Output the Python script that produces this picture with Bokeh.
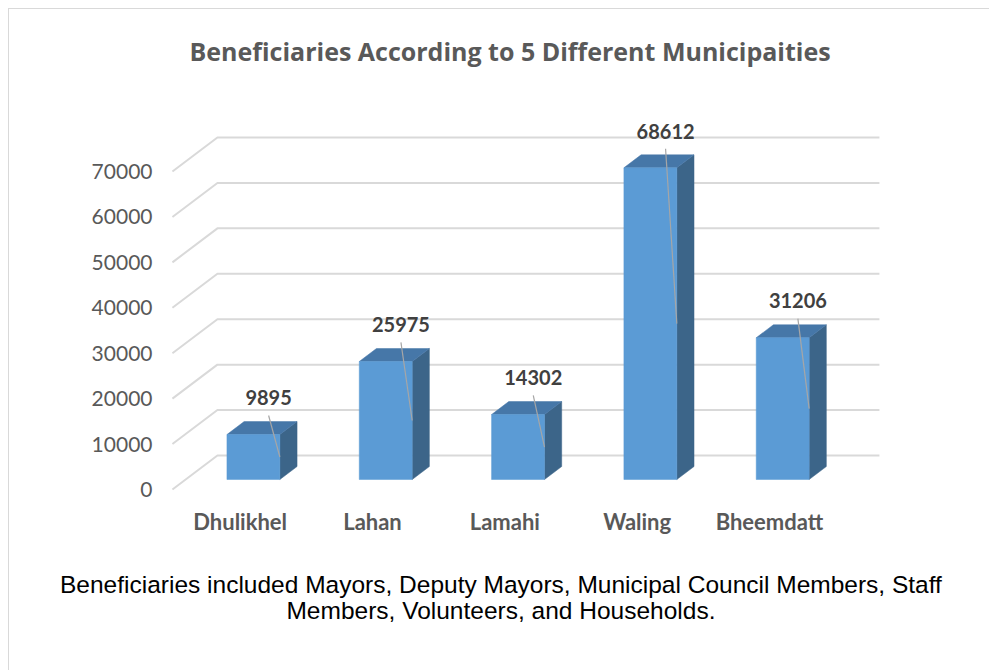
from bokeh.plotting import figure
from bokeh.layouts import column
from bokeh.models import Range1d, FixedTicker, NumeralTickFormatter, ColumnDataSource, Div
from bokeh.embed import file_html
from bokeh.resources import INLINE
from bokeh.core.properties import value

# ---------------- data ----------------
categories = ["Dhulikhel", "Lahan", "Lamahi", "Waling", "Bheemdatt"]
beneficiaries = [9895, 25975, 14302, 68612, 31206]
y_ticks = [0, 10000, 20000, 30000, 40000, 50000, 60000, 70000]
title_text = "Beneficiaries According to 5 Different Municipaities"
note_lines = [
    "Beneficiaries included Mayors, Deputy Mayors, Municipal Council Members, Staff",
    "Members, Volunteers, and Households.",
]

# ---------------- 3D projection style (data units) ----------------
DEPTH_X = 0.34      # horizontal shift of full depth (category units)
DEPTH_Y = 7484      # vertical shift of full depth (value units)
BAR_FRONT = 0.294   # fraction of depth where the bar front face sits
BAR_BACK = 0.676    # fraction of depth where the bar back face sits
BAR_W = 0.40        # bar width (category units)
GRID_X0 = -0.512    # front-left end of the gridlines
GRID_X1 = 4.831     # right end of the gridlines
LABEL_DY = 8100     # data label height above bar front top

FRONT = "#5b9bd5"
TOP = "#4677a8"
SIDE = "#3c6589"
GRID = "#d9d9d9"

p = figure(width=973, height=540, output_backend="svg", toolbar_location=None,
           x_range=Range1d(-0.519, 5.610), y_range=Range1d(-2641, 90912),
           min_border_left=162, min_border_right=0, min_border_top=67,
           min_border_bottom=48, title=title_text)
p.background_fill_color = "white"
p.border_fill_color = "white"
p.outline_line_color = None
p.xgrid.visible = False
p.ygrid.visible = False

p.title.align = "left"
p.title.offset = 18
p.title.standoff = 17
p.title.text_font = "Open Sans"
p.title.text_font_size = "25px"
p.title.text_font_style = "bold"
p.title.text_color = "#595959"

# y axis
p.yaxis.ticker = FixedTicker(ticks=y_ticks)
p.yaxis.formatter = NumeralTickFormatter(format="0")
p.yaxis.axis_line_color = None
p.yaxis.major_tick_line_color = None
p.yaxis.minor_tick_line_color = None
p.yaxis.major_label_standoff = 13
p.yaxis.major_label_text_font = "Lato"
p.yaxis.major_label_text_font_size = "21px"
p.yaxis.major_label_text_color = "#595959"

# x axis (categories on the front plane)
idx = list(range(len(categories)))
p.xaxis.ticker = FixedTicker(ticks=idx)
p.xaxis.major_label_overrides = {i: c for i, c in zip(idx, categories)}
p.xaxis.axis_line_color = None
p.xaxis.major_tick_line_color = None
p.xaxis.minor_tick_line_color = None
p.xaxis.major_label_standoff = 0
p.xaxis.major_label_text_font = "Lato"
p.xaxis.major_label_text_font_size = "22px"
p.xaxis.major_label_text_font_style = "bold"
p.xaxis.major_label_text_color = "#595959"

# gridlines: left wall + back wall
gx = [[GRID_X0, GRID_X0 + DEPTH_X, GRID_X1] for t in y_ticks]
gy = [[t, t + DEPTH_Y, t + DEPTH_Y] for t in y_ticks]
p.multi_line(gx, gy, line_color=GRID, line_width=2)

# bars
base = BAR_FRONT * DEPTH_Y
bdx = (BAR_BACK - BAR_FRONT) * DEPTH_X
bdy = (BAR_BACK - BAR_FRONT) * DEPTH_Y
shift = BAR_FRONT * DEPTH_X
left = [i + shift - BAR_W / 2 for i in idx]
right = [i + shift + BAR_W / 2 for i in idx]
top = [base + v for v in beneficiaries]

side_xs = [[r, r, r + bdx, r + bdx] for r in right]
side_ys = [[base, t, t + bdy, base + bdy] for t in top]
p.patches(side_xs, side_ys, fill_color=SIDE, line_color=SIDE, line_width=0.5)

top_xs = [[l, r, r + bdx, l + bdx] for l, r in zip(left, right)]
top_ys = [[t, t, t + bdy, t + bdy] for t in top]
p.patches(top_xs, top_ys, fill_color=TOP, line_color=TOP, line_width=0.5)

p.quad(left=left, right=right, bottom=[base] * len(idx), top=top,
       fill_color=FRONT, line_color=FRONT, line_width=0.5)

# data labels with leader lines
lab_x = [i + shift + 0.115 for i in idx]
lab_y = [t + LABEL_DY for t in top]
p.segment(x0=lab_x, y0=[y - 3900 for y in lab_y], x1=right,
          y1=[base + v / 2 for v in beneficiaries], line_color="#a6a6a6", line_width=1.2)
src = ColumnDataSource(dict(x=lab_x, y=lab_y, t=[str(v) for v in beneficiaries]))
p.text(x="x", y="y", text="t", source=src, text_align="center", text_baseline="middle",
       text_font=value("Lato"), text_font_size="20px", text_font_style="bold",
       text_color="#404040")

# footnote below the chart
note_html = (
    '<div style="padding-left:46px; padding-top:18px; text-align:center; '
    'font-family:\'Liberation Sans\', Arial, sans-serif; font-size:24.5px; '
    'line-height:26px; color:#000000; white-space:nowrap;">'
    + "<br>".join(note_lines) + "</div>"
)
note = Div(text=note_html, width=973, height=114)

layout = column(p, note, spacing=0)
layout.styles = {"border": "1px solid #d9d9d9", "margin-left": "8px", "margin-top": "8px",
                 "background-color": "white"}

open("out.html", "w").write(file_html(layout, INLINE))
